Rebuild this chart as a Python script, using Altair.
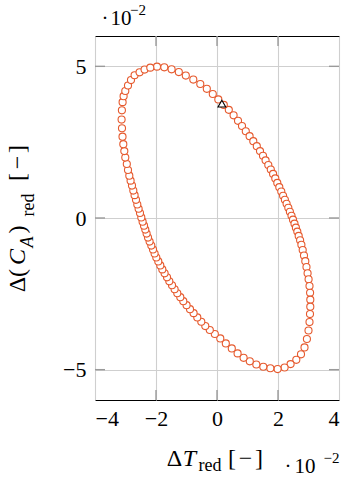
import altair as alt
import pandas as pd

# values in units of 10^-2
dT = [-1.967, -1.728, -1.489, -1.252, -1.023, -0.777, -0.548, -0.334, -0.138, 0.043,
      0.223, 0.387, 0.544, 0.689, 0.820, 0.944, 1.069, 1.190, 1.305, 1.410,
      1.508, 1.593, 1.682, 1.764, 1.839, 1.911, 1.977, 2.043, 2.108, 2.167,
      2.226, 2.282, 2.338, 2.390, 2.443, 2.492, 2.541, 2.587, 2.633, 2.679,
      2.725, 2.767, 2.810, 2.852, 2.895, 2.934, 2.970, 3.003, 3.033, 3.052,
      3.059, 3.059, 3.049, 3.033, 3.000, 2.948, 2.869, 2.754, 2.600, 2.413,
      2.216, 1.987,
      1.748, 1.518, 1.289, 1.075, 0.872, 0.675, 0.485, 0.289, 0.108, -0.072,
      -0.236, -0.384, -0.515, -0.646, -0.767, -0.885, -0.997, -1.105, -1.203, -1.302,
      -1.390, -1.475, -1.564, -1.639, -1.718, -1.793, -1.859, -1.925, -1.990, -2.046,
      -2.098, -2.154, -2.210, -2.262, -2.308, -2.351, -2.393, -2.439, -2.482, -2.525,
      -2.570, -2.613, -2.656, -2.702, -2.744, -2.787, -2.833, -2.875, -2.918, -2.957,
      -3.007, -3.039, -3.072, -3.098, -3.115, -3.128, -3.118, -3.095, -3.062, -3.007,
      -2.918, -2.820, -2.702, -2.538, -2.374, -2.187]
dCA = [4.990, 4.967, 4.902, 4.810, 4.695, 4.564, 4.417, 4.259, 4.089, 3.909,
       3.729, 3.565, 3.385, 3.204, 3.034, 2.860, 2.697, 2.533, 2.369, 2.205,
       2.051, 1.900, 1.746, 1.599, 1.452, 1.304, 1.157, 1.016, 0.872, 0.731,
       0.600, 0.469, 0.337, 0.206, 0.075, -0.056, -0.187, -0.318, -0.449, -0.590,
       -0.734, -0.885, -1.055, -1.235, -1.422, -1.619, -1.825, -2.022, -2.241, -2.464,
       -2.693, -2.923, -3.168, -3.431, -3.709, -3.988, -4.266, -4.495, -4.676, -4.817,
       -4.928, -4.980,
       -4.954, -4.905, -4.830, -4.725, -4.610, -4.463, -4.299, -4.135, -3.971, -3.824,
       -3.693, -3.562, -3.421, -3.277, -3.136, -3.005, -2.874, -2.742, -2.611, -2.480,
       -2.349, -2.218, -2.087, -1.956, -1.825, -1.694, -1.563, -1.432, -1.301, -1.170,
       -1.039, -0.908, -0.777, -0.645, -0.514, -0.383, -0.252, -0.121, 0.020, 0.164,
       0.305, 0.446, 0.600, 0.754, 0.904, 1.068, 1.232, 1.396, 1.583, 1.779,
       1.992, 2.205, 2.434, 2.680, 2.959, 3.244, 3.549, 3.820, 4.017, 4.187,
       4.368, 4.548, 4.705, 4.803, 4.892, 4.957]

start_T = [0.16]
start_CA = [3.77]

x_ticks = [-4, -2, 0, 2, 4]
y_ticks = [-5, 0, 5]
x_domain = [-4, 4]
y_domain = [-6, 6]

FONT = "Liberation Serif"
W, H = 244, 364
ORANGE = "#E65A2E"
TS, SS = 24, 18  # title font size, subscript size

df = pd.DataFrame({"T": dT, "CA": dCA, "i": list(range(len(dT)))})
df0 = pd.DataFrame({"T": start_T, "CA": start_CA})

xs = alt.Scale(domain=x_domain, nice=False, zero=False)
ys = alt.Scale(domain=y_domain, nice=False, zero=False)

xaxis = alt.Axis(values=x_ticks, title=None, grid=True, ticks=False, domain=False,
                 labelPadding=8, format="d")
yaxis = alt.Axis(values=y_ticks, title=None, grid=True, ticks=False, domain=False,
                 labelPadding=9, format="d")

points = alt.Chart(df).mark_point(
    shape="circle", size=50, filled=False, fill="white", fillOpacity=1,
    stroke=ORANGE, strokeWidth=1.1, opacity=1
).encode(
    x=alt.X("T:Q", scale=xs, axis=xaxis),
    y=alt.Y("CA:Q", scale=ys, axis=yaxis),
    order=alt.Order("i:Q"),
)

start = alt.Chart(df0).mark_point(
    shape="triangle-up", size=60, filled=False, fill="white", fillOpacity=1,
    stroke="black", strokeWidth=1.1, opacity=1
).encode(x=alt.X("T:Q", scale=xs), y=alt.Y("CA:Q", scale=ys))

# inner tick marks (pgfplots style)
xt = pd.DataFrame({"v": x_ticks[1:-1]})
yt = pd.DataFrame({"v": y_ticks})
TICKC = "#9a9a9a"
tb = alt.Chart(xt).mark_rule(color=TICKC, strokeWidth=1.4).encode(
    x=alt.X("v:Q", scale=xs), y=alt.value(H - 10), y2=alt.value(H))
tt = alt.Chart(xt).mark_rule(color=TICKC, strokeWidth=1.4).encode(
    x=alt.X("v:Q", scale=xs), y=alt.value(0), y2=alt.value(10))
tl = alt.Chart(yt).mark_rule(color=TICKC, strokeWidth=1.4).encode(
    y=alt.Y("v:Q", scale=ys), x=alt.value(0), x2=alt.value(10))
tr = alt.Chart(yt).mark_rule(color=TICKC, strokeWidth=1.4).encode(
    y=alt.Y("v:Q", scale=ys), x=alt.value(W - 10), x2=alt.value(W))


def label(txt, x, y, size=TS, italic=False, angle=None, align="center"):
    props = dict(text=txt, font=FONT, fontSize=size, align=align,
                 baseline="alphabetic", color="black")
    if italic:
        props["fontStyle"] = "italic"
    if angle is not None:
        props["angle"] = angle
    return alt.Chart(alt.Data(values=[{}])).mark_text(**props).encode(
        x=alt.value(x), y=alt.value(y))


texts = [
    # x title: ΔT_red [−]
    label("Δ", 79.5, 430),
    label("T", 94.5, 430, italic=True),
    label("red", 115, 435, size=SS),
    label("[", 137, 430),
    label("−", 150.5, 430),
    label("]", 164, 430),
    # x exponent
    label("·", 193, 437, size=21),
    label("10", 210, 437, size=21),
    label("−2", 236.5, 427, size=15),
    # y exponent
    label("·", 10, -11, size=21),
    label("10", 26, -11, size=21),
    label("−2", 43, -21, size=15),
    # y title: Δ(C_A)_red [−]
    label("Δ", -70, 248.5, angle=270),
    label("(", -70, 237, angle=270),
    label("C", -70, 221, italic=True, angle=270),
    label("A", -62, 206, size=SS, italic=True, angle=270),
    label(")", -70, 193.5, angle=270),
    label("red", -61, 169, size=SS, angle=270),
    label("[", -70, 141, angle=270),
    label("−", -70, 126.5, angle=270),
    label("]", -70, 113, angle=270),
]

chart = alt.layer(tb, tt, tl, tr, points, start, *texts).properties(
    width=W, height=H,
    autosize=alt.AutoSizeParams(type="none"),
    padding={"left": 95, "top": 36, "right": 4, "bottom": 79},
    background="white",
).configure_view(
    stroke="black", strokeWidth=1
).configure_axis(
    labelFont=FONT, labelFontSize=22, labelColor="black",
    gridColor="#cfcfcf", gridWidth=1.1,
)

chart.save("out.html", embed_options={"renderer": "svg", "actions": False})
